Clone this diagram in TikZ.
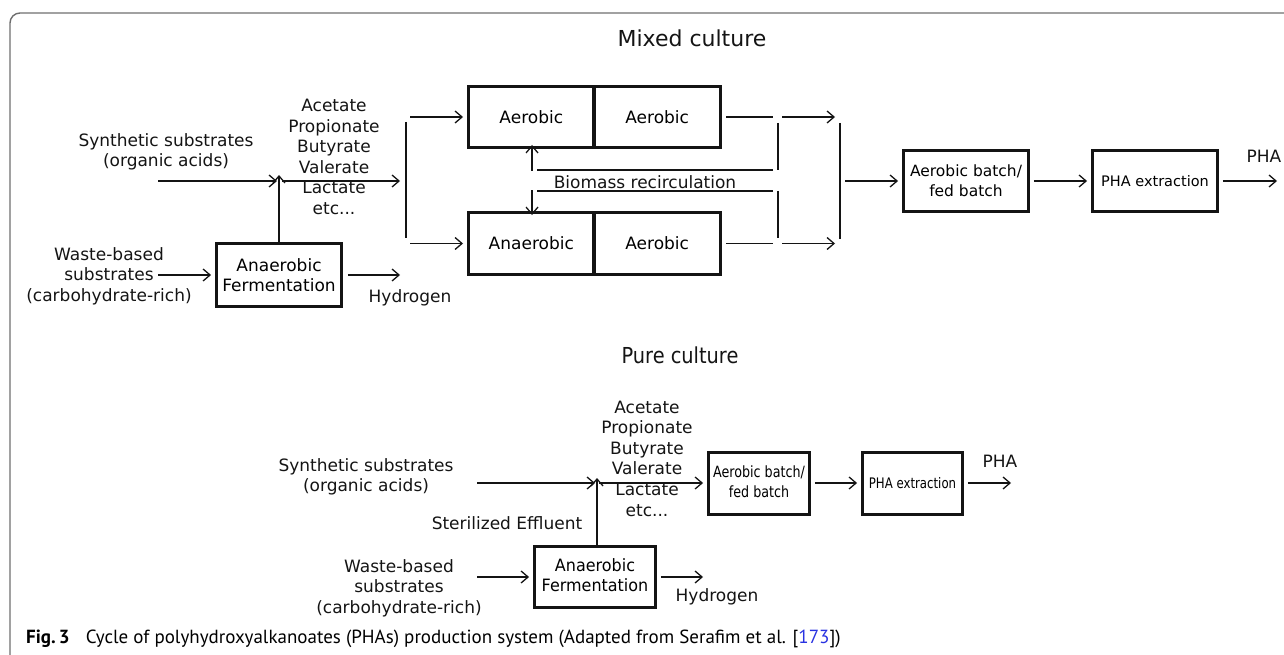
\documentclass[tikz,border=0pt]{standalone}
\usepackage{fontspec}
\setmainfont{DejaVu Sans}
\newfontfamily\capfont{PT Sans}
\usetikzlibrary{arrows.meta}
\definecolor{ink}{RGB}{20,20,20}
\definecolor{framegray}{RGB}{110,110,110}
\definecolor{refblue}{RGB}{40,50,225}
\tikzset{
  flow/.style={draw=ink, line width=1.3pt, -{Straight Barb[length=7pt,width=12pt,line width=1.3pt]}},
  plain/.style={draw=ink, line width=1.3pt},
  box/.style={draw=ink, line width=3.3pt, rectangle, inner sep=0pt, align=center,
    font=\fontsize{17}{20}\selectfont},
  lbl/.style={align=center, inner sep=0pt, text=ink, font=\fontsize{17}{20.6}\selectfont},
  ttl/.style={inner sep=0pt, text=ink, font=\fontsize{22}{26}\selectfont},
}
\begin{document}
\begin{tikzpicture}[x=1pt,y=-1pt]
\useasboundingbox (0,0) rectangle (1284,655);
% frame
\draw[framegray, line width=1.4pt] (10,660) -- (10,23) arc[start angle=180,end angle=270,radius=10] -- (1290,13);

% ================= Mixed culture =================
\node[ttl] (mixt) at (692,38) {Mixed culture};

\node[lbl] (msyn) at (166,152) {Synthetic substrates\\(organic acids)};
\node[lbl] (mwaste) at (109,276) {Waste-based\\substrates\\(carbohydrate-rich)};
\node[lbl] (macids) at (334,157) {Acetate\\Propionate\\Butyrate\\Valerate\\Lactate\\etc...};
\node[box, minimum width=124.6pt, minimum height=62.6pt] (maf) at (279,275) {Anaerobic\\Fermentation};
\node[lbl] (mhyd) at (410,298) {Hydrogen};

\node[box, minimum width=125.3pt, minimum height=60.6pt] (t1) at (531.3,117) {Aerobic};
\node[box, minimum width=126.3pt, minimum height=60.6pt] (t2) at (657.2,117) {Aerobic};
\node[box, minimum width=125.3pt, minimum height=61.6pt] (b1) at (531.3,243.5) {Anaerobic};
\node[box, minimum width=126.3pt, minimum height=61.6pt] (b2) at (657.2,243.5) {Aerobic};
\node[lbl] (mbio) at (645,182) {Biomass recirculation};

\node[box, minimum width=124.6pt, minimum height=60.6pt, font=\fontsize{15.5}{20}\selectfont] (mab) at (966,181) {Aerobic batch/\\fed batch};
\node[box, minimum width=124.6pt, minimum height=60.6pt, font=\fontsize{14.5}{20}\selectfont] (mpha) at (1155,181) {PHA extraction};
\node[lbl] (mphaout) at (1264,156) {PHA};

% coordinates
\coordinate (ms0) at (158,181);
\coordinate (mj) at (279,181);
\coordinate (mj2) at (282,181);
\coordinate (mj3) at (400,181);
\coordinate (mbarT) at (406,122);
\coordinate (mbarB) at (406,238);
\coordinate (mt0) at (410,117);
\coordinate (mb0) at (410,243.5);
\coordinate (mw0) at (158,275);
\coordinate (mh1) at (400,275);
\coordinate (ot1) at (773,117);
\coordinate (ot2) at (782,117);
\coordinate (ot3) at (835,117);
\coordinate (ob1) at (773,243.5);
\coordinate (ob2) at (782,243.5);
\coordinate (ob3) at (835,243.5);
\coordinate (v1a) at (778,123);
\coordinate (v1b) at (778,170);
\coordinate (v2a) at (778,191);
\coordinate (v2b) at (778,238);
\coordinate (ru1) at (773,170);
\coordinate (ru2) at (537,170);
\coordinate (rua) at (532,170.6);
\coordinate (rd1) at (773,191);
\coordinate (rd2) at (537,191);
\coordinate (rda) at (532,190.4);
\coordinate (mbar2T) at (840,123);
\coordinate (mbar2B) at (840,239);
\coordinate (ms4) at (845,181);
\coordinate (mpe) at (1277,181);

\draw[flow] (ms0) -- ([xshift=-2pt]mj);
\draw[flow] (maf.north) -- ([yshift=6pt]mj);
\draw[flow] (mj2) -- (mj3);
\draw[plain] (mbarT) -- (mbarB);
\draw[flow] (mt0) -- ([xshift=-4pt]t1.west);
\draw[flow] (mb0) -- ([xshift=-4pt]b1.west);
\draw[flow] (mw0) -- ([xshift=-4pt]maf.west);
\draw[flow] ([xshift=5pt]maf.east) -- (mh1);
\draw[plain] ([xshift=4pt]t2.east) -- (ot1);
\draw[flow] (ot2) -- (ot3);
\draw[plain] ([xshift=4pt]b2.east) -- (ob1);
\draw[flow] (ob2) -- (ob3);
\draw[plain] (v1a) -- (v1b);
\draw[plain] (v2a) -- (v2b);
\draw[plain] (ru1) -- (ru2);
\draw[flow] (rua) -- ([yshift=4pt]t1.south -| rua);
\draw[plain] (rd1) -- (rd2);
\draw[flow] (rda) -- ([yshift=-4pt]b1.north -| rda);
\draw[plain] (mbar2T) -- (mbar2B);
\draw[flow] (ms4) -- ([xshift=-4pt]mab.west);
\draw[flow] ([xshift=4pt]mab.east) -- ([xshift=-4pt]mpha.west);
\draw[flow] ([xshift=4pt]mpha.east) -- (mpe);

% ================= Pure culture =================
\node[ttl] (puret) at (680,355) {\scalebox{0.88}[1]{Pure culture}};

\node[lbl] (psyn) at (366,477) {Synthetic substrates\\(organic acids)};
\node[lbl] (pwaste) at (399,588) {Waste-based\\substrates\\(carbohydrate-rich)};
\node[lbl] (pacids) at (647,458.5) {Acetate\\Propionate\\Butyrate\\Valerate\\Lactate\\etc...};
\node[lbl] (pster) at (507,523) {Sterilized Effluent};
\node[box, minimum width=120.6pt, minimum height=60.6pt] (paf) at (595,577) {\scalebox{0.94}[1]{\begin{tabular}{@{}c@{}}Anaerobic\\Fermentation\end{tabular}}};
\node[lbl] (phyd) at (717,597) {Hydrogen};
\node[box, minimum width=100.6pt, minimum height=61.6pt] (pab) at (759,483.5) {\fontsize{15.5}{20}\selectfont\scalebox{0.82}[1]{\begin{tabular}{@{}c@{}}Aerobic batch/\\fed batch\end{tabular}}};
\node[box, minimum width=99.6pt, minimum height=61.6pt] (ppha) at (912.5,483.5) {\fontsize{14.5}{20}\selectfont\scalebox{0.81}[1]{PHA extraction}};
\node[lbl] (pphaout) at (1000,461) {PHA};

\coordinate (ps0) at (477,483);
\coordinate (pj) at (597,483);
\coordinate (pj2) at (599,483);
\coordinate (pw0) at (477,577);
\coordinate (ph1) at (703,577);
\coordinate (ppe) at (1011,483);

\draw[flow] (ps0) -- ([xshift=-2pt]pj);
\draw[flow] ([xshift=2pt]paf.north) -- ([yshift=5pt]pj);
\draw[flow] (pj2) -- ([xshift=-4pt]pab.west |- pj2);
\draw[flow] (pw0) -- ([xshift=-4pt]paf.west);
\draw[flow] ([xshift=4pt]paf.east) -- (ph1);
\draw[flow] ([xshift=4pt]pab.east |- pj2) -- ([xshift=-4pt]ppha.west |- pj2);
\draw[flow] ([xshift=4pt]ppha.east |- pj2) -- (ppe);

% caption
\node[anchor=base west, inner sep=0pt, font=\capfont\fontsize{19}{23}\selectfont] (cap) at (26,643)
  {\textbf{Fig.\,3}\hspace{0.85em}Cycle of polyhydroxyalkanoates (PHAs) production system (Adapted from Serafim et al. [\textcolor{refblue}{173}])};
\end{tikzpicture}
\end{document}
